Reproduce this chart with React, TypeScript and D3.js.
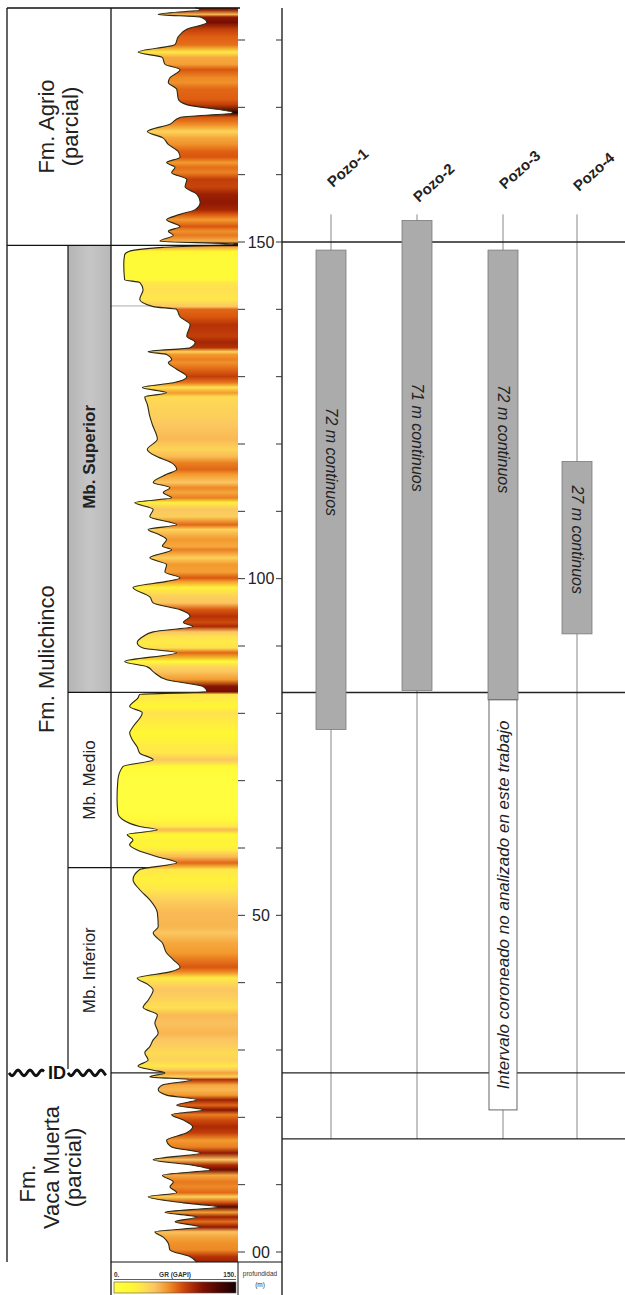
import React from "react";
import * as d3 from "d3";

// ---------- DATA ----------
const grDepth = [
  184.8, 184.5, 183.8, 183.4, 182.6, 181.6, 180.5, 179.3, 178.2, 177.4, 176.4, 175.6, 174.4, 173.7, 172.7, 171.2,
  170.4, 169.2, 168.5, 167.5, 166.4, 165.5, 164.5, 163.4, 162.6, 161.8, 161.1, 160.3, 159.3, 158.2, 157.1, 155.9,
  154.8, 154.1, 153.3, 152.3, 151.6, 151.0, 150.1, 149.7, 149.2, 148.6, 148.1, 146.7, 144.4, 144.0, 142.9, 141.5,
  140.4, 140.0, 138.9, 137.7, 136.0, 135.1, 134.3, 133.7, 133.3, 132.5, 132.1, 131.1, 130.0, 129.1, 128.4, 127.6,
  127.0, 125.9, 124.1, 122.9, 120.7, 119.2, 118.1, 117.2, 116.2, 115.5, 114.3, 113.5, 112.8, 112.0, 111.3, 110.3,
  109.2, 108.0, 107.3, 106.5, 105.8, 104.8, 104.3, 103.1, 102.1, 101.0, 100.1, 99.6, 98.7, 97.3, 96.4, 95.4,
  94.4, 93.5, 92.9, 92.1, 91.4, 90.5, 89.7, 89.0, 87.7, 86.9, 86.2, 85.0, 84.0, 83.2, 82.8, 82.3,
  81.0, 80.1, 78.0, 77.1, 76.1, 75.0, 74.1, 73.1, 72.1, 70.1, 67.2, 65.2, 64.2, 63.2, 62.7, 62.0,
  61.2, 60.5, 59.7, 58.7, 57.8, 56.8, 55.3, 53.8, 52.3, 50.4, 48.3, 47.4, 45.9, 44.4, 43.4, 42.3,
  41.6, 40.7, 39.7, 38.9, 37.4, 36.3, 35.2, 34.0, 32.5, 31.5, 30.5, 29.6, 28.5, 27.6, 27.0, 26.6,
  26.0, 25.6, 24.8, 24.1, 23.3, 22.6, 21.8, 21.1, 20.4, 19.6, 18.6, 17.7, 16.6, 15.6, 14.7, 13.7,
  12.9, 12.2, 11.4, 10.4, 9.7, 8.8, 8.2, 7.3, 6.7, 5.9, 5.2, 4.5, 3.7, 3.0, 2.2, 1.3,
  0.3, -0.7, -1.5,
];
const grValue = [
  99, 105, 55, 105, 113, 89, 79, 75, 31, 60, 63, 81, 69, 67, 77, 79,
  89, 144, 81, 69, 42, 60, 67, 79, 81, 65, 75, 71, 89, 87, 101, 105,
  99, 81, 65, 81, 67, 73, 57, 145, 60, 20, 15, 14, 15, 33, 37, 33,
  49, 77, 81, 93, 89, 99, 93, 43, 65, 71, 67, 77, 89, 73, 36, 65,
  39, 42, 45, 48, 54, 42, 54, 71, 77, 65, 49, 69, 61, 71, 27, 49,
  45, 77, 43, 57, 65, 60, 71, 45, 65, 63, 81, 65, 25, 45, 49, 81,
  93, 85, 96, 49, 37, 30, 37, 77, 15, 42, 49, 65, 108, 113, 33, 31,
  21, 36, 25, 21, 24, 30, 33, 49, 13, 7, 6, 7, 13, 33, 54, 18,
  25, 21, 30, 54, 77, 33, 25, 33, 45, 54, 55, 49, 60, 65, 73, 81,
  69, 30, 43, 49, 43, 37, 54, 51, 55, 49, 45, 39, 43, 31, 49, 63,
  45, 95, 60, 55, 65, 101, 77, 108, 71, 85, 96, 89, 65, 71, 105, 49,
  96, 117, 60, 73, 69, 77, 43, 85, 125, 63, 101, 75, 105, 51, 61, 67,
  69, 93, 101,
];

const grDomain = [0, 150];
const depthTickValues = d3.range(0, 181, 10);
const depthLabelValues = [0, 50, 100, 150];
const depthLabelText = ["00", "50", "100", "150"];

const wellNames = ["Pozo-1", "Pozo-2", "Pozo-3", "Pozo-4"];
const coreTop = [148.8, 153.2, 148.8, 117.4];
const coreBase = [77.6, 83.4, 82.0, 91.8];
const coreLabels = ["72 m continuos", "71 m continuos", "72 m continuos", "27 m continuos"];
const uncoredWell = "Pozo-3";
const uncoredTop = 82.0;
const uncoredBase = 21.1;
const uncoredLabel = "Intervalo coroneado no analizado en este trabajo";
const wellLineTop = 154.1;
const wellLineBase = 16.8;

const formationNames = [["Fm. Agrio", "(parcial)"], ["Fm. Mulichinco"], ["Fm.", "Vaca Muerta", "(parcial)"]];
const formationTops = [184.8, 149.5, 26.6];
const formationBases = [149.5, 26.6, -1.5];
const memberNames = ["Mb. Superior", "Mb. Medio", "Mb. Inferior"];
const memberTops = [149.5, 83.1, 57.1];
const memberBases = [83.1, 57.1, 26.6];
const correlationDepths = [150, 83.1, 26.6, 16.8];
const markerDepths = [140.5];
const idDepth = 26.6;

// ---------- LAYOUT ----------
const W = 625;
const H = 1295;
const colL = 7;
const memL = 68;
const grL = 111;
const grR = 238;
const axR = 282;
const panelR = 625;
const yTopPx = 8;
const logBottomPx = 1262;
const FONT = "'Liberation Sans', Arial, Helvetica, sans-serif";
const formationLineX = [[46, 70], [46], [27, 51, 73]];
const formationShiftY = [[0, 0], [0], [16, 0, 0]];
const wellLabelY = [188, 203, 190, 192];
const coreLabelShift = [-28, -18, -36, -8];

const y = d3.scaleLinear().domain([0, 150]).range([1252, 242]);
const xGR = d3.scaleLinear().domain(grDomain).range([112, grR]);
const xWell = d3.scaleOrdinal<string, number>().domain(wellNames).range([331, 417, 503, 577]);
const color = d3
  .scaleLinear<string>()
  .domain([0, 20, 35, 50, 65, 80, 95, 110, 130, 150])
  .range(["#ffff45", "#fff832", "#ffe44e", "#fbc462", "#f39a2e", "#dc5a10", "#b02c05", "#7e1002", "#4a0500", "#160000"])
  .clamp(true);

export default function App() {
  const pts: [number, number][] = grDepth.map((d, i) => [d, grValue[i]]);
  const area = d3
    .area<[number, number]>()
    .y((d) => y(d[0]))
    .x0((d) => xGR(d[1]))
    .x1(grR)
    .curve(d3.curveMonotoneY);
  const line = d3
    .line<[number, number]>()
    .x((d) => xGR(d[1]))
    .y((d) => y(d[0]))
    .curve(d3.curveMonotoneY);
  const yA = y(grDepth[0]);
  const yB = y(grDepth[grDepth.length - 1]);
  const stops = pts.map((p) => ({ off: (y(p[0]) - yA) / (yB - yA), c: color(p[1]) }));
  const legendStops = d3.range(0, 151, 10).map((v) => ({ off: v / 150, c: color(v) }));

  const yID = y(idDepth);
  const wave = (x0: number, x1: number) =>
    d3.line<number>().x((x) => x).y((x) => yID + 2.8 * Math.sin(((x - x0) / 12) * 2 * Math.PI))(d3.range(x0, x1 + 0.5, 1)) || "";

  const bw = 30;
  return (
    <svg width={W} height={H} style={{ position: "absolute", left: 0, top: 0, background: "#fff" }} fontFamily={FONT}>
      <defs>
        <linearGradient id="grfill" gradientUnits="userSpaceOnUse" x1={0} x2={0} y1={yA} y2={yB}>
          {stops.map((s, i) => (
            <stop key={i} offset={s.off} stopColor={s.c} />
          ))}
        </linearGradient>
        <linearGradient id="legend" x1="0" x2="1" y1="0" y2="0">
          {legendStops.map((s, i) => (
            <stop key={i} offset={s.off} stopColor={s.c} />
          ))}
        </linearGradient>
        <linearGradient id="grayBar" x1="0" x2="1" y1="0" y2="0">
          <stop offset="0" stopColor="#b4b4b4" />
          <stop offset="0.5" stopColor="#c6c6c6" />
          <stop offset="1" stopColor="#b8b8b8" />
        </linearGradient>
      </defs>

      {/* member box for Mb. Superior */}
      <rect x={memL} y={y(memberTops[0])} width={grL - memL} height={y(memberBases[0]) - y(memberTops[0])} fill="url(#grayBar)" />

      {/* faint marker lines in log column */}
      {markerDepths.map((d, i) => (
        <line key={i} x1={grL} x2={grR} y1={y(d)} y2={y(d)} stroke="#999" strokeWidth={0.8} />
      ))}
      {/* boundary lines across log column (under fill) */}
      {[memberBases[0], memberBases[1], idDepth].map((d, i) => (
        <line key={i} x1={grL} x2={grR} y1={y(d)} y2={y(d)} stroke="#222" strokeWidth={1.2} />
      ))}

      {/* GR fill and curve */}
      <path d={area(pts) || ""} fill="url(#grfill)" />
      <path d={line(pts) || ""} fill="none" stroke="#2a2a14" strokeWidth={1.1} />

      {/* frame of left columns */}
      <line x1={colL} x2={grR + 2} y1={yTopPx} y2={yTopPx} stroke="#111" strokeWidth={1.3} />
      <line x1={colL} x2={colL} y1={yTopPx} y2={logBottomPx} stroke="#111" strokeWidth={1.3} />
      <line x1={grL} x2={grL} y1={yTopPx} y2={H} stroke="#111" strokeWidth={1.3} />
      <line x1={memL} x2={memL} y1={y(memberTops[0])} y2={y(memberBases[2]) - 4} stroke="#111" strokeWidth={1.2} />
      <line x1={colL} x2={grR} y1={y(formationBases[0])} y2={y(formationBases[0])} stroke="#111" strokeWidth={1.3} />
      {[memberBases[0], memberBases[1]].map((d, i) => (
        <line key={i} x1={memL} x2={grL} y1={y(d)} y2={y(d)} stroke="#111" strokeWidth={1.2} />
      ))}

      {/* ID unconformity */}
      <path d={wave(9, 44)} fill="none" stroke="#111" strokeWidth={2.8} />
      <path d={wave(68, 106)} fill="none" stroke="#111" strokeWidth={2.8} />
      <text x={57} y={yID} textAnchor="middle" dominantBaseline="central" fontSize={18} fontWeight="bold" fill="#111">
        ID
      </text>

      {/* formation labels */}
      {formationNames.map((lines, i) => {
        const cy = (y(formationTops[i]) + y(formationBases[i])) / 2;
        return lines.map((t, j) => (
          <text
            key={i + "-" + j}
            transform={`translate(${formationLineX[i][j]},${cy + formationShiftY[i][j]}) rotate(-90)`}
            textAnchor="middle"
            dominantBaseline="central"
            fontSize={22}
            fill="#222"
          >
            {t}
          </text>
        ));
      })}
      {/* member labels */}
      {memberNames.map((t, i) => (
        <text
          key={t}
          transform={`translate(${(memL + grL) / 2},${(y(memberTops[i]) + y(memberBases[i])) / 2 - (i === 0 ? 12 : 0)}) rotate(-90)`}
          textAnchor="middle"
          dominantBaseline="central"
          fontSize={17}
          fontWeight={i === 0 ? "bold" : "normal"}
          fill="#222"
        >
          {t}
        </text>
      ))}

      {/* depth axis */}
      <line x1={axR} x2={axR} y1={yTopPx} y2={H} stroke="#111" strokeWidth={1.3} />
      {depthTickValues.map((d) => (
        <g key={d}>
          <line x1={grR} x2={grR + 7} y1={y(d)} y2={y(d)} stroke="#333" strokeWidth={1} />
          <line x1={axR - 6} x2={axR} y1={y(d)} y2={y(d)} stroke="#333" strokeWidth={1} />
        </g>
      ))}
      {depthLabelValues.map((d, i) => (
        <text key={d} x={261} y={y(d)} textAnchor="middle" dominantBaseline="central" fontSize={16} fill="#222">
          {depthLabelText[i]}
        </text>
      ))}

      {/* legend */}
      <line x1={grL} x2={axR} y1={logBottomPx} y2={logBottomPx} stroke="#111" strokeWidth={1.2} />
      <line x1={grR} x2={grR} y1={logBottomPx} y2={H} stroke="#111" strokeWidth={1} />
      <text x={114} y={1277} fontSize={6.5} fontWeight="bold" fill="#333">0.</text>
      <text x={175} y={1277} textAnchor="middle" fontSize={6.5} fontWeight="bold" fill="#333">GR (GAPI)</text>
      <text x={236} y={1277} textAnchor="end" fontSize={6.5} fontWeight="bold" fill="#333">150.</text>
      <line x1={114} x2={236} y1={1279.5} y2={1279.5} stroke="#333" strokeWidth={0.8} />
      <rect x={114} y={1282} width={122} height={11} fill="url(#legend)" stroke="#555" strokeWidth={0.6} />
      <text x={260} y={1276} textAnchor="middle" fontSize={6.5} fill="#333">profundidad</text>
      <text x={260} y={1287} textAnchor="middle" fontSize={6.5} fill="#333">(m)</text>

      {/* right panel */}
      {wellNames.map((w) => (
        <line key={w} x1={xWell(w)} x2={xWell(w)} y1={y(wellLineTop)} y2={y(wellLineBase)} stroke="#888" strokeWidth={1} />
      ))}
      {correlationDepths.map((d, i) => (
        <line key={i} x1={axR} x2={panelR} y1={y(d)} y2={y(d)} stroke="#222" strokeWidth={1.4} />
      ))}
      {wellNames.map((w, i) => (
        <text
          key={w}
          transform={`translate(${xWell(w) + 2},${wellLabelY[i]}) rotate(-42)`}
          fontSize={15}
          fontWeight="bold"
          fill="#222"
        >
          {w}
        </text>
      ))}
      {wellNames.map((w, i) => {
        const x0 = xWell(w) - bw / 2;
        const y0 = y(coreTop[i]);
        const y1 = y(coreBase[i]);
        return (
          <g key={w}>
            <rect x={x0} y={y0} width={bw} height={y1 - y0} fill="#ababab" stroke="#7a7a7a" strokeWidth={0.8} />
            <text
              transform={`translate(${xWell(w)},${(y0 + y1) / 2 + coreLabelShift[i]}) rotate(90)`}
              textAnchor="middle"
              dominantBaseline="central"
              fontSize={16}
              fontStyle="italic"
              fill="#222"
            >
              {coreLabels[i]}
            </text>
          </g>
        );
      })}
      <rect
        x={xWell(uncoredWell) - 14}
        y={y(uncoredTop)}
        width={28}
        height={y(uncoredBase) - y(uncoredTop)}
        fill="#fff"
        stroke="#555"
        strokeWidth={0.9}
      />
      <text
        transform={`translate(${xWell(uncoredWell)},${(y(uncoredTop) + y(uncoredBase)) / 2}) rotate(-90)`}
        textAnchor="middle"
        dominantBaseline="central"
        fontSize={17}
        fontStyle="italic"
        fill="#222"
      >
        {uncoredLabel}
      </text>
    </svg>
  );
}
